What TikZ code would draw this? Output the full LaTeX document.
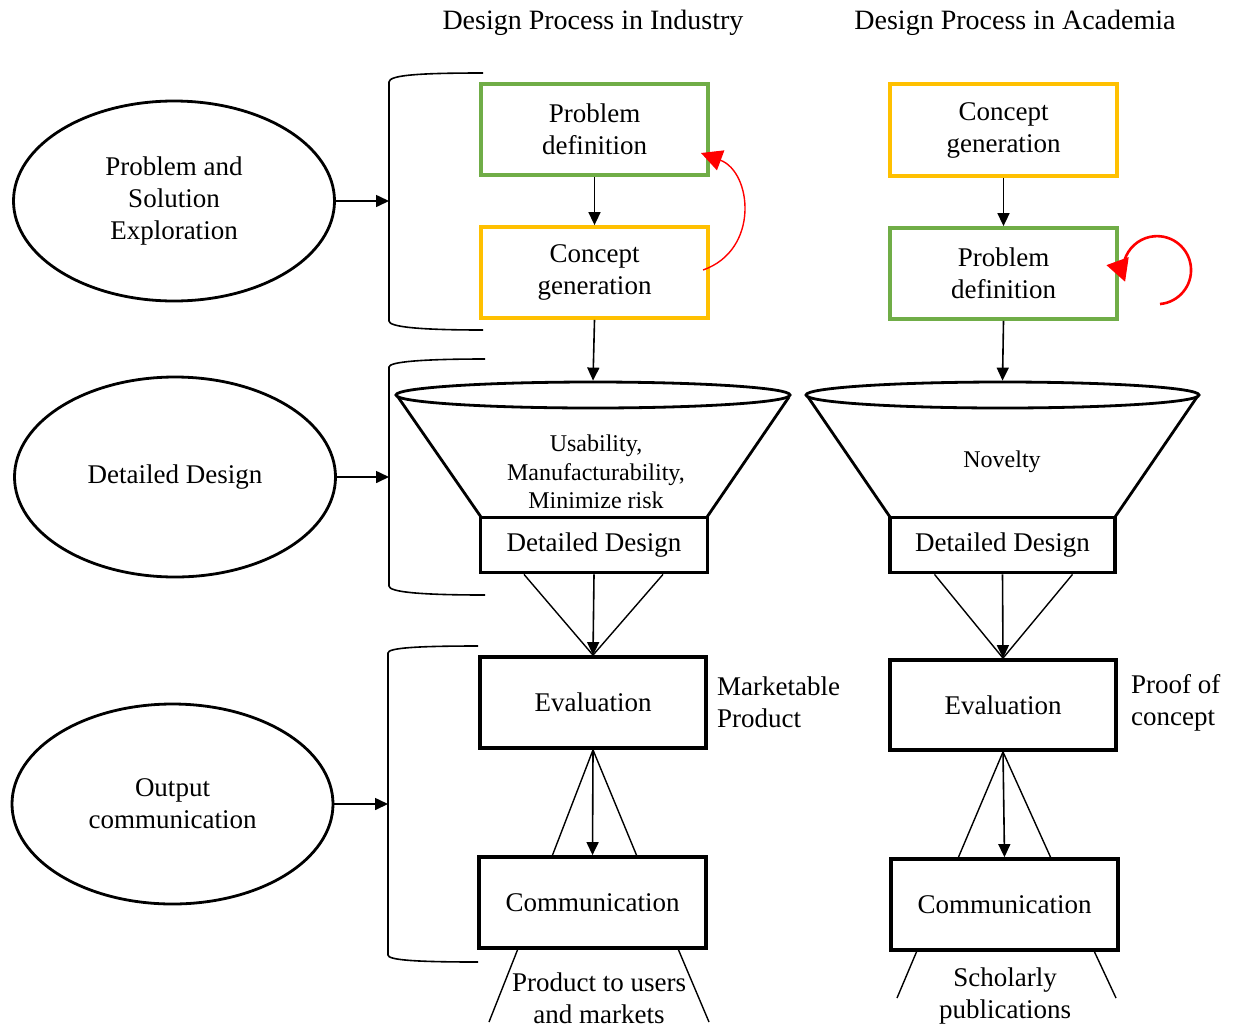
\documentclass[tikz,border=0pt]{standalone}
\usepackage{fontspec}
\setmainfont{Liberation Serif}
\usetikzlibrary{arrows.meta,calc,shapes.geometric}
\definecolor{pgreen}{HTML}{70AD47}
\definecolor{pyellow}{HTML}{FFC000}
\definecolor{pred}{HTML}{FF0000}
\newcommand\mtxt{\fontsize{27}{32}\selectfont}
\newcommand\ttxt{\fontsize{28}{32}\selectfont}
\newcommand\ftxt{\fontsize{24}{28.5}\selectfont}
\begin{document}
\begin{tikzpicture}[x=1pt,y=-1pt,
  box/.style={draw, line width=3.8pt, minimum width=227pt, minimum height=91pt, inner sep=0pt, align=center, font=\mtxt},
  gbox/.style={box, draw=pgreen},
  ybox/.style={box, draw=pyellow},
  dbox/.style={box, minimum height=55pt},
  oval/.style={draw, ellipse, line width=2.8pt, minimum width=321pt, minimum height=200pt, inner sep=0pt, align=center, font=\mtxt},
  rim/.style={draw, ellipse, line width=2.8pt, minimum height=26pt, inner sep=0pt},
  arr/.style={line width=1.6pt, -{Triangle[width=12pt,length=13pt]}},
  thin/.style={line width=1.4pt},
  brk/.style={line width=1.6pt},
  funl/.style={line width=2.8pt},
  lbl/.style={align=left, anchor=west, font=\mtxt, inner sep=0pt},
  ctxt/.style={align=center, font=\mtxt, inner sep=0pt},
]
\path[use as bounding box] (0,0) rectangle (1236,1026);

% titles
\node[ctxt, font=\ttxt] (t1) at (593,23) {Design Process in Industry};
\node[ctxt, font=\ttxt] (t2) at (1015,23) {Design Process in Academia};

% left ellipses
\node[oval] (e1) at (174,201) {Problem and\\Solution\\Exploration};
\node[oval] (e2) at (175,477) {Detailed Design};
\node[oval] (e3) at (172.5,804) {Output\\communication};

% brackets
\coordinate (b1) at (389,201);
\coordinate (b2) at (389,477);
\coordinate (b3) at (388,804);
\draw[brk] (483,73) .. controls (420,73) and (389,75) .. (389,82) -- (389,321) .. controls (389,327) and (420,330) .. (483,330);
\draw[brk] (485,359) .. controls (420,359) and (389,362) .. (389,367) -- (389,586) .. controls (389,592) and (420,595) .. (485,595);
\draw[brk] (478,646) .. controls (415,646) and (388,648) .. (388,653) -- (388,955) .. controls (388,960) and (415,962) .. (478,962);
\draw[arr] (e1.east) -- (b1);
\draw[arr] (e2.east) -- (b2);
\draw[arr] (e3.east) -- (b3);

% ---------- Industry ----------
\node[gbox] (pd1) at (594.5,129.5) {Problem\\definition};
\node[ybox] (cg1) at (594.5,272.5) {Concept\\generation};
\draw[arr] (pd1.south) -- (cg1.north);
\coordinate (r1s) at (703,270);
\coordinate (r1e) at (701,153);
\draw[pred, line width=1.4pt, -{Triangle[width=21pt,length=21pt]}] (r1s) .. controls (760,250) and (752,172) .. (r1e);

\node[rim, minimum width=394pt] (f1) at (593,395) {};
\draw[funl] (398,397) -- (481,517);
\draw[funl] (789,397) -- (707,517);
\node[ctxt, font=\ftxt] (f1t) at (596,472) {Usability,\\Manufacturability,\\Minimize risk};
\draw[arr] (cg1.south) -- (f1.north);

\node[dbox] (dd1) at (594,545) {Detailed Design};
\node[box, minimum width=226pt] (ev1) at (593,702.5) {Evaluation};
\draw[thin] ($(dd1.south)+(-70,0)$) -- (ev1.north);
\draw[thin] ($(dd1.south)+(69,0)$) -- (ev1.north);
\draw[arr] (dd1.south) -- (ev1.north);
\node[lbl] (mp) at (717,702) {Marketable\\Product};

\node[box] (cm1) at (592.5,902.5) {Communication};
\draw[thin] (ev1.south) -- ($(cm1.north)+(-40,0)$);
\draw[thin] (ev1.south) -- ($(cm1.north)+(44,0)$);
\draw[arr] (ev1.south) -- (cm1.north);
\coordinate (o1l) at (489,1022);
\coordinate (o1r) at (709,1022);
\draw[thin] ($(cm1.south)+(-75,0)$) -- (o1l);
\draw[thin] ($(cm1.south)+(86,0)$) -- (o1r);
\node[ctxt] (p1) at (599,998) {Product to users\\and markets};

% ---------- Academia ----------
\node[ybox, minimum height=92pt] (cg2) at (1003.5,130) {Concept\\generation};
\node[gbox] (pd2) at (1003.5,273.5) {Problem\\definition};
\draw[arr] (cg2.south) -- (pd2.north);
\coordinate (r2s) at (1160,304);
\draw[pred, line width=2.6pt, -{Triangle[width=23pt,length=22pt]}] (r2s) arc[start angle=-85, end angle=200, radius=34pt];

\node[rim, minimum width=393pt] (f2) at (1002.5,395) {};
\draw[funl] (808,397) -- (890,517);
\draw[funl] (1197,397) -- (1115,517);
\node[ctxt, font=\ftxt] (f2t) at (1002,462) {Novelty};
\draw[arr] (pd2.south) -- (f2.north);

\node[dbox, minimum width=225pt] (dd2) at (1002.5,545) {Detailed Design};
\node[box, minimum width=226pt, minimum height=90pt] (ev2) at (1003,705) {Evaluation};
\draw[thin] ($(dd2.south)+(-68,0)$) -- (ev2.north);
\draw[thin] ($(dd2.south)+(70,0)$) -- (ev2.north);
\draw[arr] (dd2.south) -- (ev2.north);
\node[lbl] (pc) at (1131,703) {Proof of\\concept};

\node[box] (cm2) at (1004.5,904.5) {Communication};
\draw[thin] (ev2.south) -- ($(cm2.north)+(-46,0)$);
\draw[thin] (ev2.south) -- ($(cm2.north)+(46,0)$);
\draw[arr] (ev2.south) -- (cm2.north);
\coordinate (o2l) at (897,998);
\coordinate (o2r) at (1116,998);
\draw[thin] ($(cm2.south)+(-88,0)$) -- (o2l);
\draw[thin] ($(cm2.south)+(90,0)$) -- (o2r);
\node[ctxt] (p2) at (1005,996) {Scholarly\\publications};
\end{tikzpicture}
\end{document}
